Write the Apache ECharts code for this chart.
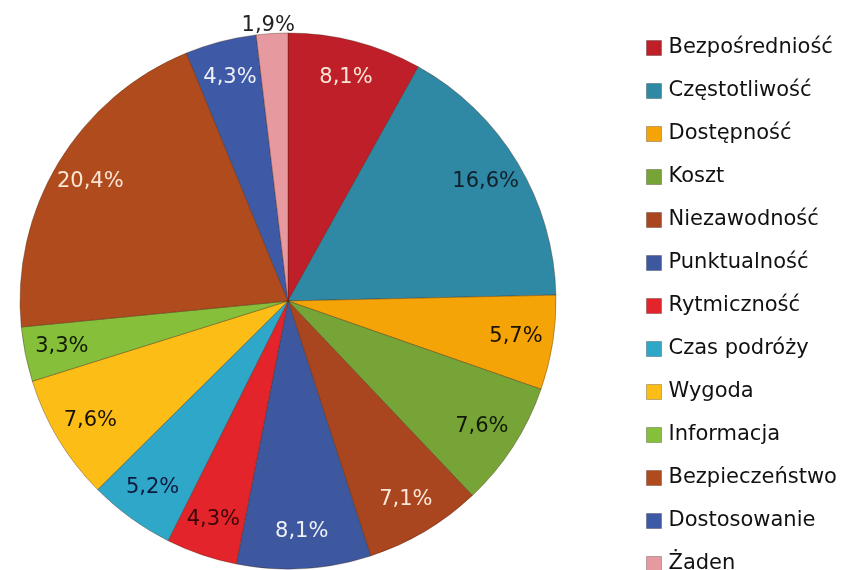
<!DOCTYPE html>
<html lang="pl">
<head>
    <meta charset="UTF-8">
    <title>Pie</title>
    <script src="https://cdn.jsdelivr.net/npm/echarts@6/dist/echarts.min.js"></script>
    <style>
        html, body { margin: 0; padding: 0; background: #fff; }
        #chart { width: 853px; height: 570px; }
    </style>
</head>
<body>
    <div id="chart"></div>
    <script>
        // data
        var categories = ['Bezpośredniość', 'Częstotliwość', 'Dostępność', 'Koszt', 'Niezawodność',
            'Punktualność', 'Rytmiczność', 'Czas podróży', 'Wygoda', 'Informacja',
            'Bezpieczeństwo', 'Dostosowanie', 'Żaden'];
        var values = [8.1, 16.6, 5.7, 7.6, 7.1, 8.1, 4.3, 5.2, 7.6, 3.3, 20.4, 4.3, 1.9];

        var colors = ['#bf1f28', '#2f89a5', '#f4a406', '#77a436', '#a9461f', '#3d589e', '#e3242b',
            '#2fa7c8', '#fcbe16', '#86bf3a', '#b04b1e', '#3e5aa6', '#e6999f'];
        var labelColors = ['#fbe6d6', '#10202a', '#1a1200', '#111a05', '#fbe6d6', '#eef0f6', '#3a0508',
            '#0b1840', '#1a1200', '#111a05', '#fbe6d6', '#eef0f6', '#222'];

        var myChart = echarts.init(document.getElementById('chart'));
        var center = [288, 301];
        var R = 268;

        var fmt = function (p) { return p.value.toFixed(1).replace('.', ',') + '%'; };

        var pieData = [];
        var labelData = [];
        for (let i = 0; i < categories.length; i++) {
            pieData.push({ name: categories[i], value: values[i], itemStyle: { color: colors[i] } });
            let lbl = {
                name: categories[i], value: values[i],
                itemStyle: { color: 'rgba(0,0,0,0)', borderWidth: 0 },
                label: { color: labelColors[i] }
            };
            if (categories[i] === 'Żaden') {
                // small slice: label sits above the pie
                lbl.label = { color: labelColors[i], offset: [-6, -45] };
            }
            labelData.push(lbl);
        }

        option = {
            animation: false,
            legend: {
                orient: 'vertical',
                left: 641,
                top: 30,
                height: 620,
                itemWidth: 15,
                itemHeight: 15,
                itemGap: 17,
                itemStyle: { borderColor: 'rgba(0,0,0,0.25)', borderWidth: 1 },
                icon: 'rect',
                data: categories,
                textStyle: { fontFamily: 'DejaVu Sans', fontSize: 21, color: '#111', lineHeight: 26, padding: [0, 0, 0, 2] }
            },
            series: [
                {
                    type: 'pie',
                    center: center,
                    radius: [0, R],
                    startAngle: 90,
                    clockwise: true,
                    silent: true,
                    data: pieData,
                    label: { show: false },
                    labelLine: { show: false },
                    itemStyle: { borderColor: 'rgba(60,30,10,0.35)', borderWidth: 1 }
                },
                {
                    type: 'pie',
                    center: center,
                    radius: [R * 0.7, R],
                    startAngle: 90,
                    clockwise: true,
                    silent: true,
                    data: labelData,
                    label: {
                        show: true,
                        position: 'inside',
                        formatter: fmt,
                        fontFamily: 'DejaVu Sans',
                        fontSize: 21
                    },
                    labelLine: { show: false }
                }
            ]
        };
        myChart.setOption(option);
    </script>
</body>
</html>
